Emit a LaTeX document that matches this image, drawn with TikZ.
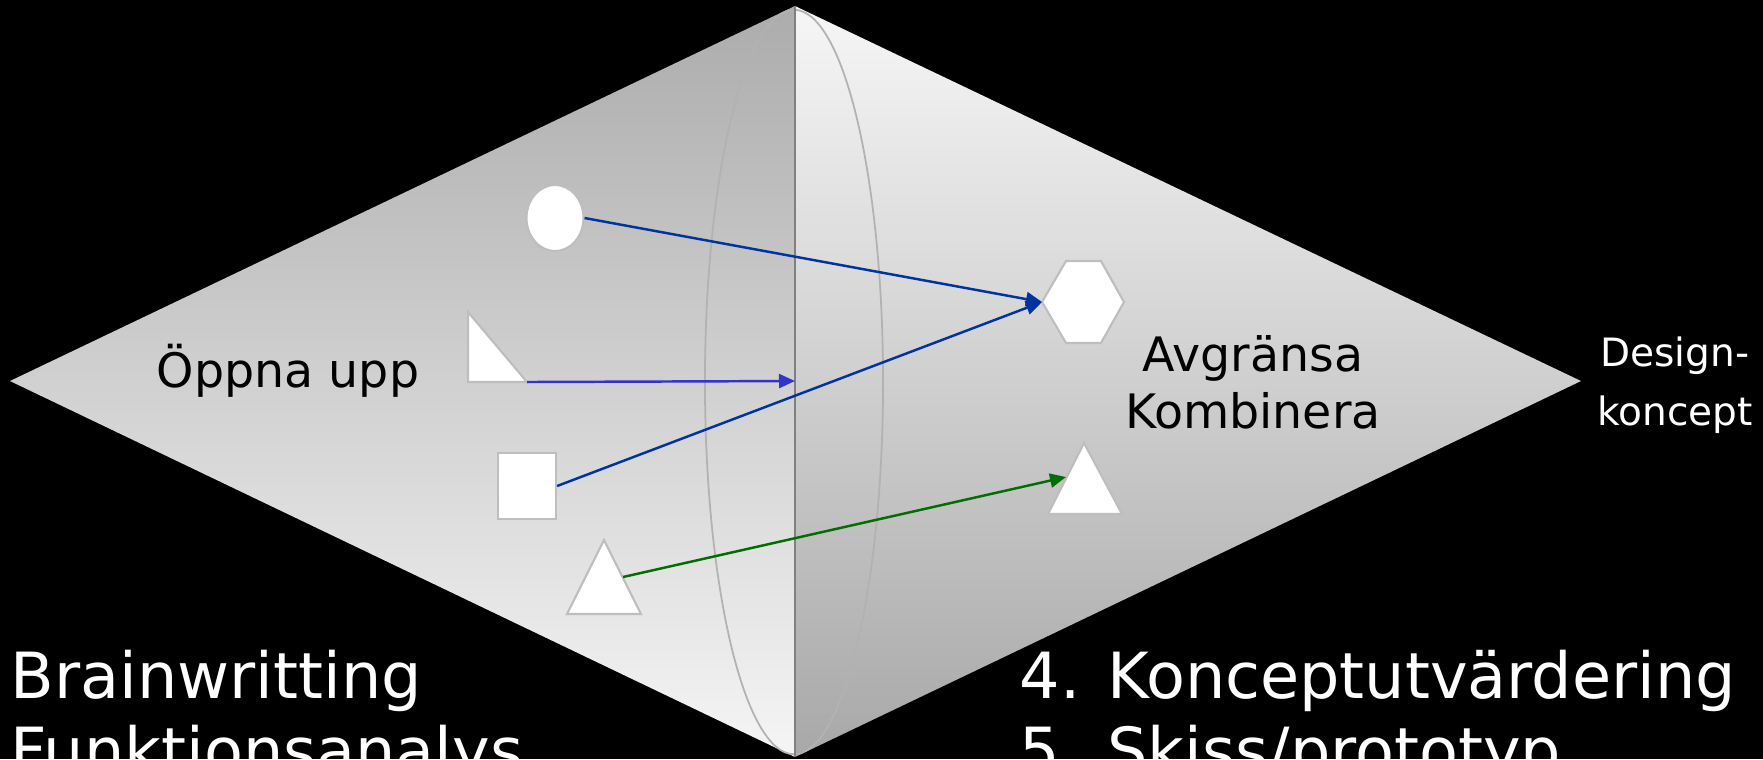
\documentclass[tikz,border=0pt]{standalone}
\usepackage{fontspec}
\setmainfont{DejaVu Sans}
\usepackage{tikz}
\usetikzlibrary{positioning,calc,arrows.meta,shapes.geometric}
\definecolor{linkblue}{RGB}{0,51,160}
\definecolor{linkindigo}{RGB}{51,51,204}
\definecolor{linkgreen}{RGB}{0,110,0}
\definecolor{shapeedge}{RGB}{190,190,190}
\definecolor{rimgray}{RGB}{178,178,178}

\begin{document}
\begin{tikzpicture}[
  x=0.01cm, y=-0.01cm,
  idea/.style={draw=shapeedge, fill=white, line width=0.6pt, inner sep=0pt},
  flow/.style={-{Triangle[length=1.6mm,width=1.4mm]}, line width=0.7pt},
  inside/.style={font=\fontsize{13.5}{16.2}\selectfont, align=center, inner sep=0pt},
  outside/.style={text=white, align=left, inner sep=0pt, font=\fontsize{18.1}{21.3}\selectfont}
]
\useasboundingbox (0,0) rectangle (1763,759);
\clip (0,0) rectangle (1763,759);
\fill[black] (0,0) rectangle (1763,759);

% diamond: opening half and closing half
\coordinate (west) at (10,381);
\coordinate (north) at (795,6);
\coordinate (south) at (795,757);
\coordinate (east) at (1581,381);
\coordinate (midline) at (795,381);
\shade[top color={rgb,255:red,172;green,172;blue,172}, bottom color={rgb,255:red,245;green,245;blue,245}]
  (west) -- (north) -- (south) -- cycle;
\shade[top color={rgb,255:red,246;green,246;blue,246}, bottom color={rgb,255:red,168;green,168;blue,168}]
  (north) -- (east) -- (south) -- cycle;
\draw[rimgray, line width=0.5pt] (794,382) ellipse [x radius=0.89cm, y radius=3.72cm];
\draw[gray, line width=0.4pt] (north) -- (south);

% ideas on the left
\node[idea, ellipse, minimum width=0.57cm, minimum height=0.66cm] (circ) at (555,218) {};
\draw[idea] (468,312) -- (468,382) -- (527,382) -- cycle;
\coordinate (ramp) at (527,382);
\node[idea, rectangle, minimum width=0.58cm, minimum height=0.66cm] (box) at (527,486) {};
\draw[idea] (604,540) -- (641,614) -- (567,614) -- cycle;
\coordinate (peak) at (623,577);

% concepts on the right
\draw[idea] (1042,302) -- (1066,261) -- (1101,261) -- (1124,302) -- (1101,343) -- (1066,343) -- cycle;
\coordinate (hex) at (1042,302);
\draw[idea] (1084,443) -- (1122,514) -- (1048,514) -- cycle;
\coordinate (spire) at (1066,477);

\draw[flow, linkblue] (circ.east) -- (hex);
\draw[flow, linkindigo] (ramp) -- (midline);
\draw[flow, linkblue] (box.east) -- (hex);
\draw[flow, linkgreen] (peak) -- (spire);

\node[inside, anchor=base] (open) at (288,387) {Öppna upp};
\node[inside, anchor=base] (narrow) at (1253,428) {Avgränsa\\Kombinera};
\node[text=white, align=center, inner sep=0pt, font=\fontsize{11.1}{16.5}\selectfont, anchor=base] (concept) at (1675,425) {Design-\\koncept};
\node[outside, anchor=base west] (methods) at (10,773) {Brainwritting\\Funktionsanalys};
\node[outside, anchor=base west] (steps) at (1019,773) {4. Konceptutvärdering\\5. Skiss/prototyp};
\end{tikzpicture}
\end{document}
